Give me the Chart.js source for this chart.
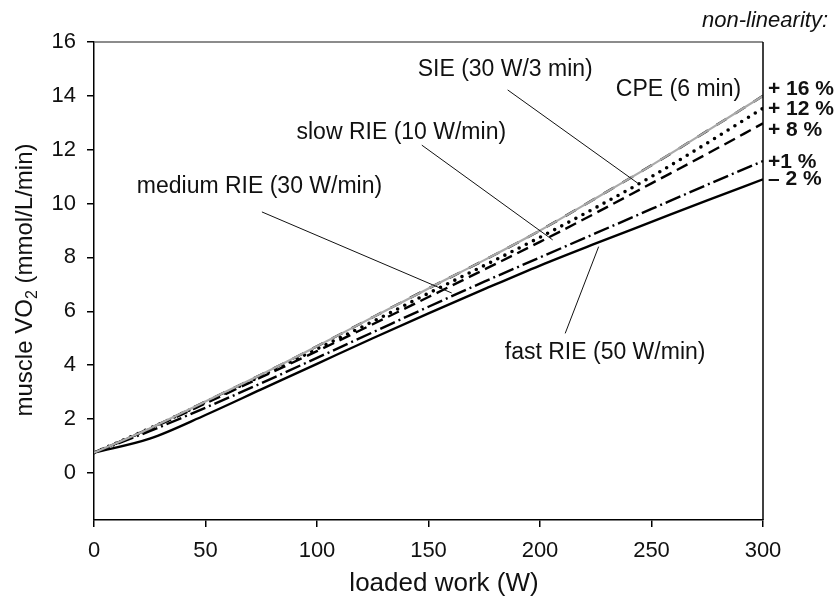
<!DOCTYPE html>
<html><head><meta charset="utf-8">
<script src="https://cdn.jsdelivr.net/npm/chart.js@4.4.0/dist/chart.umd.min.js"></script>
<style>html,body{margin:0;padding:0;background:#fff;}#wrap{width:835px;height:598px;}</style>
</head><body><div id="wrap"><canvas id="c" width="835" height="598"></canvas></div>
<script>
// ---- data ----
const loadedWork = [0, 25, 50, 75, 100, 125, 150, 175, 200, 225, 250, 275, 300];
const cpe       = [0.75, 1.65, 2.65, 3.65, 4.70, 5.78, 6.85, 7.90, 9.00, 10.20, 11.42, 12.70, 14.00];
const sie       = [0.75, 1.65, 2.62, 3.60, 4.60, 5.62, 6.67, 7.70, 8.75, 9.85, 11.00, 12.25, 13.54];
const slowRIE   = [0.75, 1.63, 2.58, 3.55, 4.52, 5.52, 6.53, 7.55, 8.58, 9.65, 10.75, 11.85, 12.98];
const mediumRIE = [0.75, 1.55, 2.42, 3.33, 4.27, 5.22, 6.17, 7.10, 8.00, 8.90, 9.80, 10.70, 11.58];
const fastRIE   = [0.75, 1.27, 2.15, 3.10, 4.05, 5.00, 5.92, 6.82, 7.70, 8.52, 9.32, 10.12, 10.90];
const xTicks = [0, 50, 100, 150, 200, 250, 300];
const yTicks = [0, 2, 4, 6, 8, 10, 12, 14, 16];
const nonLinLabels = ['+ 16 %', '+ 12 %', '+ 8 %', '+1 %', '\u2013 2 %'];
const nonLinLabelY = [14.26, 13.51, 12.73, 11.55, 10.92];
const calloutText = ['SIE (30 W/3 min)', 'CPE (6 min)', 'slow RIE (10 W/min)', 'medium RIE (30 W/min)', 'fast RIE (50 W/min)'];
const calloutPos  = [[184.4, 14.96], [262.1, 14.22], [137.8, 12.62], [74.2, 10.62], [229.2, 4.45]];
const calloutFrom = [[185.5, 14.22], null, [147.0, 12.17], [75.3, 9.69], [211.3, 5.18]];
const calloutTo   = [[243.8, 10.76], null, [205.7, 8.65], [160.4, 6.68], [226.3, 8.40]];

const pts = arr => arr.map((v, i) => ({x: loadedWork[i], y: v}));
const FONT = '"Liberation Sans", Arial, sans-serif';

const decor = {
  id: 'decor',
  afterDraw(chart) {
    const ctx = chart.ctx, a = chart.chartArea, xs = chart.scales.x, ys = chart.scales.y;
    ctx.save();
    ctx.lineWidth = 1.5;
    ctx.strokeStyle = '#666';
    ctx.beginPath(); ctx.moveTo(a.left, a.top); ctx.lineTo(a.right, a.top); ctx.stroke();
    ctx.strokeStyle = '#000';
    ctx.beginPath(); ctx.moveTo(a.right, a.top); ctx.lineTo(a.right, a.bottom); ctx.stroke();
    ctx.fillStyle = '#111';
    ctx.font = '23px ' + FONT;
    ctx.textAlign = 'center'; ctx.textBaseline = 'middle';
    calloutText.forEach((t, i) => {
      ctx.fillText(t, xs.getPixelForValue(calloutPos[i][0]), ys.getPixelForValue(calloutPos[i][1]));
      if (calloutFrom[i]) {
        ctx.strokeStyle = '#111'; ctx.lineWidth = 1;
        ctx.beginPath();
        ctx.moveTo(xs.getPixelForValue(calloutFrom[i][0]), ys.getPixelForValue(calloutFrom[i][1]));
        ctx.lineTo(xs.getPixelForValue(calloutTo[i][0]), ys.getPixelForValue(calloutTo[i][1]));
        ctx.stroke();
      }
    });
    ctx.font = 'bold 21px ' + FONT;
    ctx.textAlign = 'left';
    nonLinLabels.forEach((t, i) => {
      ctx.fillText(t, a.right + 5, ys.getPixelForValue(nonLinLabelY[i]));
    });
    ctx.font = 'italic 22px ' + FONT;
    ctx.textAlign = 'right'; ctx.textBaseline = 'alphabetic';
    ctx.fillText('non-linearity:', 828, 27);
    ctx.font = '26px ' + FONT;
    ctx.textAlign = 'center'; ctx.textBaseline = 'middle';
    ctx.fillText('loaded work (W)', 444, 584);
    ctx.translate(24, 280);
    ctx.rotate(-Math.PI / 2);
    const p1 = 'muscle VO', p3 = ' (mmol/L/min)';
    ctx.font = '24px ' + FONT;
    const w1 = ctx.measureText(p1).width, w3 = ctx.measureText(p3).width;
    ctx.font = '16px ' + FONT;
    const w2 = ctx.measureText('2').width;
    let x0 = -(w1 + w2 + w3) / 2;
    ctx.textAlign = 'left'; ctx.textBaseline = 'alphabetic';
    ctx.font = '24px ' + FONT;
    ctx.fillText(p1, x0, 8);
    ctx.font = '16px ' + FONT;
    ctx.fillText('2', x0 + w1, 13);
    ctx.font = '24px ' + FONT;
    ctx.fillText(p3, x0 + w1 + w2, 8);
    ctx.restore();
  }
};

new Chart(document.getElementById('c'), {
  type: 'line',
  data: {
    datasets: [
      {label: 'CPE', data: pts(cpe), borderColor: '#aaaaaa', borderWidth: 2.2},
      {label: 'CPE dashes', data: pts(cpe), borderColor: '#000', borderWidth: 2.4, borderDash: [12, 10]},
      {label: 'SIE', data: pts(sie), borderColor: '#000', borderWidth: 3.6, borderDash: [0, 8], borderCapStyle: 'round'},
      {label: 'slow RIE', data: pts(slowRIE), borderColor: '#000', borderWidth: 2.4, borderDash: [12, 6]},
      {label: 'medium RIE', data: pts(mediumRIE), borderColor: '#000', borderWidth: 2.4, borderDash: [16, 4, 2, 4]},
      {label: 'fast RIE', data: pts(fastRIE), borderColor: '#000', borderWidth: 2.4}
    ]
  },
  options: {
    responsive: false, animation: false, devicePixelRatio: 1,
    layout: {padding: {left: 0, right: 72, top: 42, bottom: 0}},
    elements: {point: {radius: 0}, line: {cubicInterpolationMode: 'monotone', fill: false}},
    plugins: {legend: {display: false}, tooltip: {enabled: false}},
    scales: {
      x: {
        type: 'linear', min: 0, max: 300,
        afterBuildTicks: s => { s.ticks = xTicks.map(v => ({value: v})); },
        afterFit: s => { s.height = 78; },
        ticks: {font: {size: 22, family: FONT}, color: '#111', padding: 11, maxRotation: 0, autoSkip: false},
        grid: {drawOnChartArea: false, drawTicks: true, tickLength: 7, color: '#000', lineWidth: 1.5},
        border: {display: true, color: '#000', width: 1.5}
      },
      y: {
        type: 'linear', min: -1.75, max: 16,
        afterBuildTicks: s => { s.ticks = yTicks.map(v => ({value: v})); },
        afterFit: s => { s.width = 94; },
        ticks: {font: {size: 22, family: FONT}, color: '#111', padding: 11, autoSkip: false},
        grid: {drawOnChartArea: false, drawTicks: true, tickLength: 7, color: '#000', lineWidth: 1.5},
        border: {display: true, color: '#000', width: 1.5}
      }
    }
  },
  plugins: [decor]
});
</script></body></html>
